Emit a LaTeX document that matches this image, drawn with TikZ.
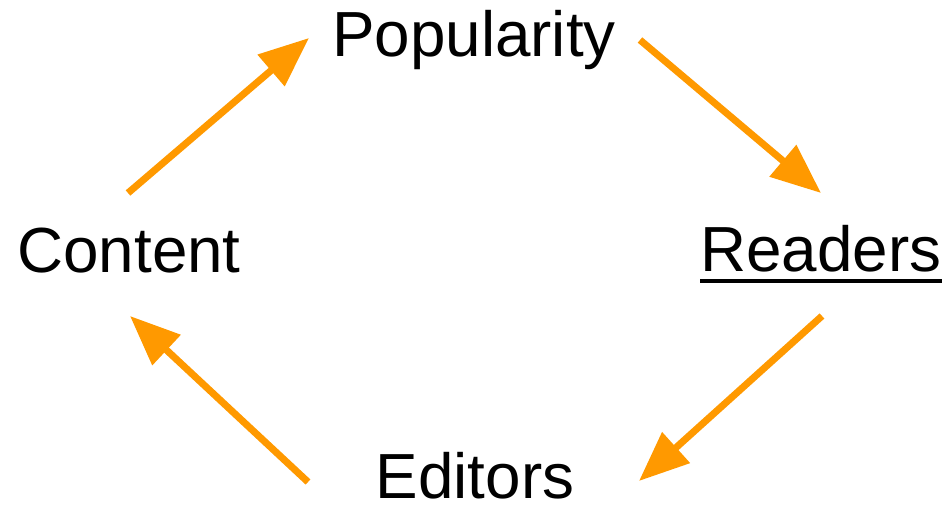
\documentclass[tikz,border=0pt]{standalone}
\usepackage{fontspec}
\setmainfont{Liberation Sans}
\usetikzlibrary{arrows.meta,calc}
\definecolor{arroworange}{HTML}{FF9900}
\begin{document}
\begin{tikzpicture}[x=1bp,y=-1bp,
  lbl/.style={inner sep=0pt,anchor=base,font=\fontsize{64}{72}\selectfont},
  flow/.style={draw=arroworange,line width=7bp,-{Triangle[length=50bp,width=40bp]},fill=arroworange}]
\useasboundingbox (0,0) rectangle (947,506);
\node[lbl] (pop) at (474,57) {Popularity};
\node[lbl] (content) at (129,273) {Content};
\node[lbl] (readers) at (821,272) {Readers};
\node[lbl] (editors) at (475,498) {Editors};
\draw[line width=4bp] ($(readers.base west)+(0,9)$) -- ($(readers.base east)+(0,9)$);
\coordinate (a1s) at (128,193);
\coordinate (a1e) at (309,38);
\coordinate (a2s) at (640,40);
\coordinate (a2e) at (821,193);
\coordinate (a3s) at (822,316);
\coordinate (a3e) at (639,481);
\coordinate (a4s) at (308,482);
\coordinate (a4e) at (130,316);
\draw[flow] (a1s) -- (a1e);
\draw[flow] (a2s) -- (a2e);
\draw[flow] (a3s) -- (a3e);
\draw[flow] (a4s) -- (a4e);
\end{tikzpicture}
\end{document}
